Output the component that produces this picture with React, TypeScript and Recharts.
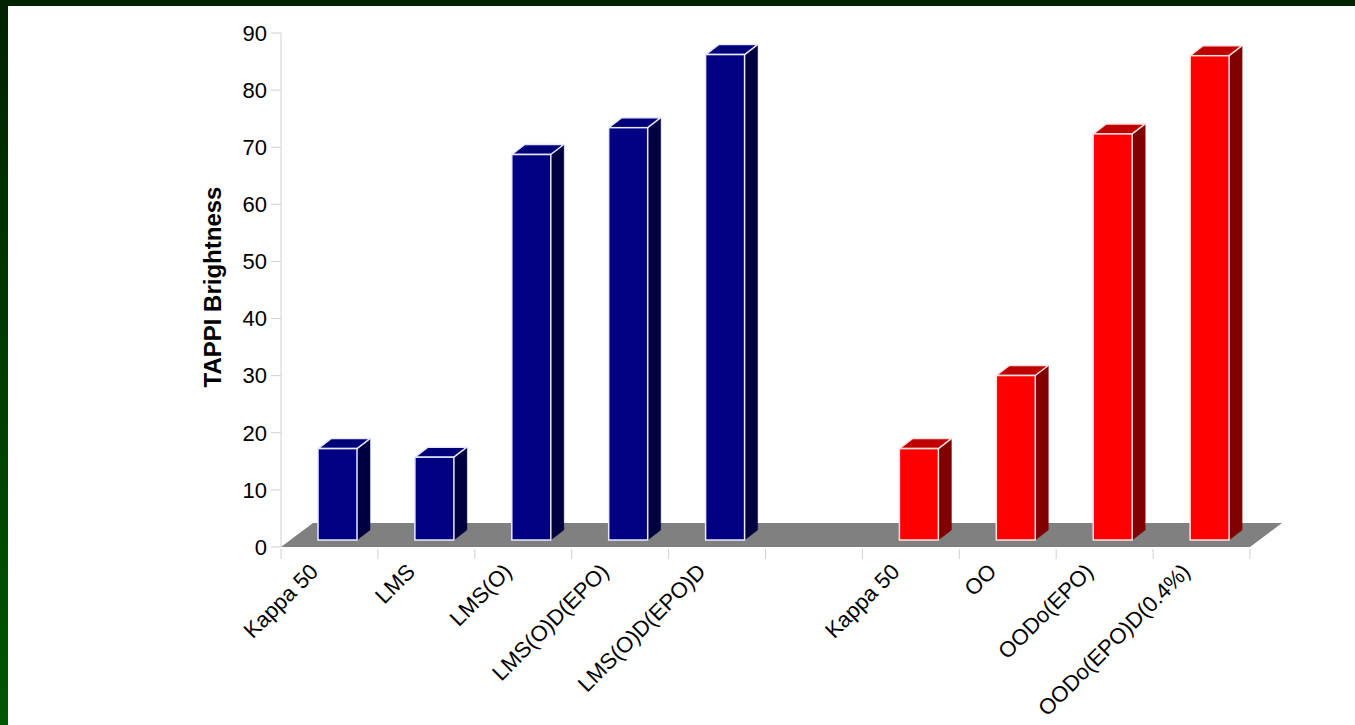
import React from 'react';
import { BarChart, Bar, XAxis, YAxis, ReferenceLine } from 'recharts';

// ---- data ----
const categories = [
  'Kappa 50',
  'LMS',
  'LMS(O)',
  'LMS(O)D(EPO)',
  'LMS(O)D(EPO)D',
  '',
  'Kappa 50',
  'OO',
  'OODo(EPO)',
  'OODo(EPO)D(0.4%)',
];
const lmsValues = [16, 14.5, 67.5, 72.2, 85];
const gapValues = [null];
const ooValues = [16, 28.8, 71.1, 84.8];
const yTicks = [0, 10, 20, 30, 40, 50, 60, 70, 80, 90];

const seriesOf = [
  ...lmsValues.map(() => 'blue'),
  ...gapValues.map(() => 'none'),
  ...ooValues.map(() => 'red'),
];
const allValues = [...lmsValues, ...gapValues, ...ooValues];

const data = categories.map((label, i) => ({
  key: 'c' + i,
  label,
  value: allValues[i],
  series: seriesOf[i],
}));

// ---- styles ----
const palette: Record<string, { front: string; top: string; side: string; stroke: string }> = {
  blue: { front: '#000080', top: '#000078', side: '#000040', stroke: '#e8e8ff' },
  red: { front: '#ff0000', top: '#c00000', side: '#800000', stroke: '#ffe0e0' },
};
const DEPTH_DX = 13;
const DEPTH_DY = -10;
const SHIFT_X = 8;
const SHIFT_Y = -7;
const FLOOR_DX = 32;
const FLOOR_DY = -24;
const FONT = '"Liberation Sans", Arial, sans-serif';

const Bar3D = (props: any) => {
  const { x, y, width, height, payload } = props;
  if (!height || height <= 0 || !payload || !palette[payload.series]) return null;
  const c = palette[payload.series];
  const fx = x + SHIFT_X;
  const fy = y + SHIFT_Y;
  const w = width;
  const h = height;
  const side = `${fx + w},${fy} ${fx + w + DEPTH_DX},${fy + DEPTH_DY} ${fx + w + DEPTH_DX},${fy + h + DEPTH_DY} ${fx + w},${fy + h}`;
  const top = `${fx},${fy} ${fx + DEPTH_DX},${fy + DEPTH_DY} ${fx + w + DEPTH_DX},${fy + DEPTH_DY} ${fx + w},${fy}`;
  return (
    <g>
      <polygon points={side} fill={c.side} stroke={c.side} strokeWidth={0.5} />
      <polygon points={top} fill={c.top} stroke={c.stroke} strokeWidth={1.5} strokeLinejoin="round" />
      <rect x={fx} y={fy} width={w} height={h} fill={c.front} stroke={c.stroke} strokeWidth={1.5} />
    </g>
  );
};

const Floor = (props: any) => {
  const { x1, y1, x2, y2 } = props;
  if (x1 == null || x2 == null) return null;
  const pts = `${x1},${y1} ${x2},${y2} ${x2 + FLOOR_DX},${y2 + FLOOR_DY} ${x1 + FLOOR_DX},${y1 + FLOOR_DY}`;
  return <polygon points={pts} fill="#808080" stroke="none" />;
};

const XTick = (props: any) => {
  const { x, y, payload, index } = props;
  const half = payload && payload.offset ? payload.offset : 48.5;
  const label = categories[index] ?? '';
  const tx = x - 10;
  const ty = y + 18;
  const isLast = index === categories.length - 1;
  return (
    <g>
      <line x1={x - half} y1={y - 6} x2={x - half} y2={y + 4} stroke="#d0d0d0" strokeWidth={1} />
      {isLast && (
        <line x1={x + half} y1={y - 6} x2={x + half} y2={y + 4} stroke="#d0d0d0" strokeWidth={1} />
      )}
      {label && (
        <text
          x={tx}
          y={ty}
          textAnchor="end"
          fontSize={22}
          fontFamily={FONT}
          fill="#000"
          transform={`rotate(-45, ${tx}, ${ty})`}
        >
          {label}
        </text>
      )}
    </g>
  );
};

const YLabel = (props: any) => {
  const vb = props.viewBox || {};
  const cx = 212;
  const cy = (vb.y ?? 33) + (vb.height ?? 514) / 2 - 3;
  return (
    <text
      x={cx}
      y={cy}
      textAnchor="middle"
      dominantBaseline="central"
      fontSize={24}
      fontWeight="bold"
      fontFamily={FONT}
      fill="#000"
      transform={`rotate(-90, ${cx}, ${cy})`}
    >
      TAPPI Brightness
    </text>
  );
};

export default function App() {
  return (
    <div
      style={{
        position: 'absolute',
        left: 0,
        top: 0,
        width: 1355,
        height: 725,
        background: '#ffffff',
        overflow: 'hidden',
        fontFamily: FONT,
      }}
    >
      <div style={{ position: 'absolute', left: 0, top: 0, width: 1355, height: 6, background: '#002200' }} />
      <div
        style={{
          position: 'absolute',
          left: 0,
          top: 0,
          width: 8,
          height: 725,
          background: 'linear-gradient(#002200, #005800)',
        }}
      />
      <div style={{ position: 'absolute', left: 0, top: 0 }}>
        <BarChart
          width={1355}
          height={725}
          data={data}
          margin={{ top: 33, right: 105, bottom: 8, left: 201 }}
          barCategoryGap={0}
        >
          <ReferenceLine y={0} shape={Floor} zIndex={0} ifOverflow="visible" />
          <XAxis
            dataKey="key"
            type="category"
            interval={0}
            axisLine={false}
            tickLine={false}
            height={170}
            tick={XTick}
          />
          <YAxis
            type="number"
            domain={[0, 90]}
            ticks={yTicks}
            interval={0}
            width={80}
            axisLine={{ stroke: '#d0d0d0' }}
            tickLine={{ stroke: '#d0d0d0' }}
            tickSize={10}
            tickMargin={4}
            tick={{ fontSize: 22, fill: '#000', fontFamily: FONT }}
            label={<YLabel />}
          />
          <Bar dataKey="value" barSize={39} shape={Bar3D} isAnimationActive={false} />
        </BarChart>
      </div>
    </div>
  );
}
